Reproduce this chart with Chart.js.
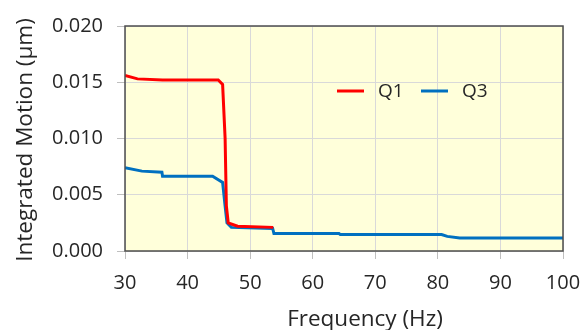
<!DOCTYPE html>
<html>
<head>
<meta charset="utf-8">
<script src="https://cdn.jsdelivr.net/npm/chart.js@4.4.1/dist/chart.umd.min.js"></script>
<style>
  html, body { margin: 0; padding: 0; background: #fff; }
  #wrap { width: 580px; height: 330px; }
</style>
</head>
<body>
<div id="wrap"><canvas id="motionChart"></canvas></div>
<script>
// Frequenties (Hz) en waarden (µm)
const q1Freq   = [30, 32, 36, 44.9, 45.6, 46.0, 46.2, 46.5, 48, 53.7];
const q1Values = [0.0156, 0.0153, 0.0152, 0.0152, 0.0148, 0.0100, 0.0040, 0.0025, 0.0022, 0.0021];

const q3Freq   = [30, 32.7, 35.9, 36, 44, 45.6, 46.0, 46.3, 47, 53.6, 53.8, 64.2, 64.4, 80.6, 81.5, 83.5, 100];
const q3Values = [0.0074, 0.0071, 0.0070, 0.00665, 0.00665, 0.0061, 0.0040, 0.0025, 0.0021, 0.0020, 0.00155, 0.00155, 0.00147, 0.00147, 0.0013, 0.00115, 0.00115];

const xTicks = [30, 40, 50, 60, 70, 80, 90, 100];
const yTicks = [0, 0.005, 0.010, 0.015, 0.020];

const xTitle = 'Frequency (Hz)';
const yTitle = 'Integrated Motion (µm)';

const textColor = '#262626';
const fontFamily = "'Open Sans', 'Noto Sans', sans-serif";

function toPoints(xs, ys) {
    return xs.map((x, i) => ({ x: x, y: ys[i] }));
}

// Achtergrond, kader, astitels en legenda
const plotDecor = {
    id: 'plotDecor',
    beforeDraw(chart) {
        const { ctx, chartArea: a } = chart;
        ctx.save();
        ctx.fillStyle = '#FFFFDA';
        ctx.fillRect(a.left, a.top, a.right - a.left, a.bottom - a.top);
        ctx.restore();
    },
    afterDatasetsDraw(chart) {
        const { ctx, chartArea: a } = chart;
        ctx.save();
        ctx.strokeStyle = '#4D4D4D';
        ctx.lineWidth = 1.5;
        ctx.strokeRect(a.left, a.top, a.right - a.left, a.bottom - a.top);

        // astitels (zoals in het origineel niet exact gecentreerd)
        ctx.fillStyle = textColor;
        ctx.font = '22.5px ' + fontFamily;
        ctx.textAlign = 'center';
        ctx.textBaseline = 'alphabetic';
        ctx.fillText(xTitle, 365, 326);

        ctx.save();
        ctx.translate(32, 140);
        ctx.rotate(-Math.PI / 2);
        ctx.fillText(yTitle, 0, 0);
        ctx.restore();

        // legenda
        ctx.font = '19px ' + fontFamily;
        ctx.textAlign = 'left';
        ctx.textBaseline = 'middle';
        let x = 337, y = 91;
        chart.data.datasets.forEach(ds => {
            ctx.strokeStyle = ds.borderColor;
            ctx.lineWidth = 3;
            ctx.beginPath();
            ctx.moveTo(x, y);
            ctx.lineTo(x + 27, y);
            ctx.stroke();
            ctx.fillStyle = textColor;
            ctx.fillText(ds.label, x + 41, y + 1);
            x += 84;
        });
        ctx.restore();
    }
};

new Chart(document.getElementById('motionChart'), {
    type: 'line',
    data: {
        datasets: [
            {
                label: 'Q1',
                data: toPoints(q1Freq, q1Values),
                borderColor: '#FF0000',
                borderWidth: 3,
                pointRadius: 0,
                tension: 0
            },
            {
                label: 'Q3',
                data: toPoints(q3Freq, q3Values),
                borderColor: '#0070C0',
                borderWidth: 3,
                pointRadius: 0,
                tension: 0
            }
        ]
    },
    options: {
        responsive: true,
        maintainAspectRatio: false,
        animation: false,
        layout: { padding: { top: 22, right: 17, left: 0, bottom: 0 } },
        plugins: {
            legend: { display: false },
            tooltip: { enabled: false }
        },
        scales: {
            x: {
                type: 'linear',
                min: 30,
                max: 100,
                afterBuildTicks: s => { s.ticks = xTicks.map(v => ({ value: v })); },
                afterFit: s => {
                    s.height = 79;
                    s.paddingLeft = 0;
                    s.paddingRight = 0;
                },
                grid: { color: '#D9D9D9', lineWidth: 1, tickLength: 8, tickColor: '#BFBFBF' },
                border: { display: false },
                ticks: { color: textColor, font: { size: 20, family: fontFamily }, padding: 12, maxRotation: 0 },
                title: { display: false }
            },
            y: {
                min: 0,
                max: 0.02,
                afterBuildTicks: s => { s.ticks = yTicks.map(v => ({ value: v })); },
                afterFit: s => { s.width = 125; },
                grid: { color: '#D9D9D9', lineWidth: 1, tickLength: 8, tickColor: '#BFBFBF' },
                border: { display: false },
                ticks: {
                    color: textColor,
                    font: { size: 20, family: fontFamily },
                    padding: 14,
                    callback: v => v.toFixed(3)
                },
                title: { display: false }
            }
        }
    },
    plugins: [plotDecor]
});
</script>
</body>
</html>
